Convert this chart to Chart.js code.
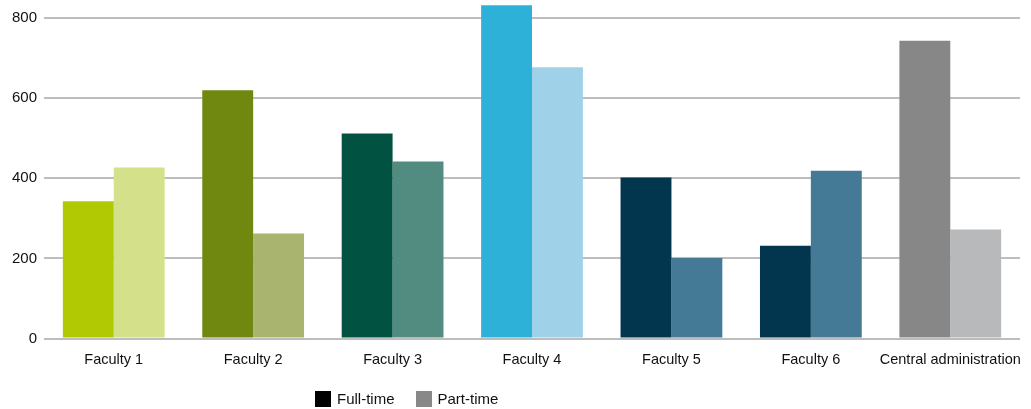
<!DOCTYPE html>
<html>
<head>
<meta charset="utf-8">
<script src="https://cdn.jsdelivr.net/npm/chart.js"></script>
<style>
  html, body { margin: 0; padding: 0; background: #fff; }
  #wrap { position: relative; width: 1031px; height: 409px; }
  #legend { position: absolute; left: 315px; top: 390px; font: 15px "Liberation Sans", Arial, sans-serif; color: #111; display: flex; align-items: center; }
  #legend span.box { display: inline-block; width: 16px; height: 16px; margin-right: 6px; }
  #legend span.item { display: inline-flex; align-items: center; margin-right: 21px; }
</style>
</head>
<body>
<div id="wrap">
  <canvas id="chart" width="1031" height="409"></canvas>
  <div id="legend">
    <span class="item"><span class="box" style="background:#000"></span>Full-time</span>
    <span class="item"><span class="box" style="background:#888"></span>Part-time</span>
  </div>
</div>
<script>
// categories and values
const categories = ['Faculty 1', 'Faculty 2', 'Faculty 3', 'Faculty 4', 'Faculty 5', 'Faculty 6', 'Central administration'];
const fullTime = [343, 620, 512, 832, 402, 232, 743];
const partTime = [427, 262, 442, 677, 201, 419, 272];
const yTicks = [0, 200, 400, 600, 800];

// each unit has its own pair of colours
const fullColors = ['#b1c903', '#70880f', '#025242', '#2eb1d9', '#02364e', '#02364e', '#878787'];
const partColors = ['#d4e08a', '#a9b56e', '#528c81', '#9fd1e8', '#447a96', '#447a96', '#b8b9bb'];

const ctx = document.getElementById('chart').getContext('2d');
new Chart(ctx, {
    type: 'bar',
    data: {
        labels: categories,
        datasets: [
            { label: 'Full-time', data: fullTime, backgroundColor: fullColors, clip: false },
            { label: 'Part-time', data: partTime, backgroundColor: partColors, clip: false }
        ]
    },
    options: {
        responsive: false,
        animation: false,
        categoryPercentage: 0.73,
        barPercentage: 1,
        layout: { padding: { top: 18, left: 5, right: 11, bottom: 35 } },
        plugins: {
            legend: { display: false },
            tooltip: { enabled: false }
        },
        scales: {
            x: {
                grid: { display: false },
                border: { display: false },
                ticks: {
                    color: '#111',
                    padding: 5,
                    maxRotation: 0,
                    autoSkip: false,
                    font: { family: '"Liberation Sans", Arial, sans-serif', size: 14.5 }
                }
            },
            y: {
                min: 0,
                max: 800,
                afterBuildTicks: (axis) => { axis.ticks = yTicks.map(v => ({ value: v })); },
                grid: { color: '#bdbdbd', lineWidth: 2, drawTicks: false },
                border: { display: false },
                ticks: {
                    color: '#111',
                    padding: 7,
                    font: { family: '"Liberation Sans", Arial, sans-serif', size: 15 }
                }
            }
        }
    }
});
</script>
</body>
</html>
